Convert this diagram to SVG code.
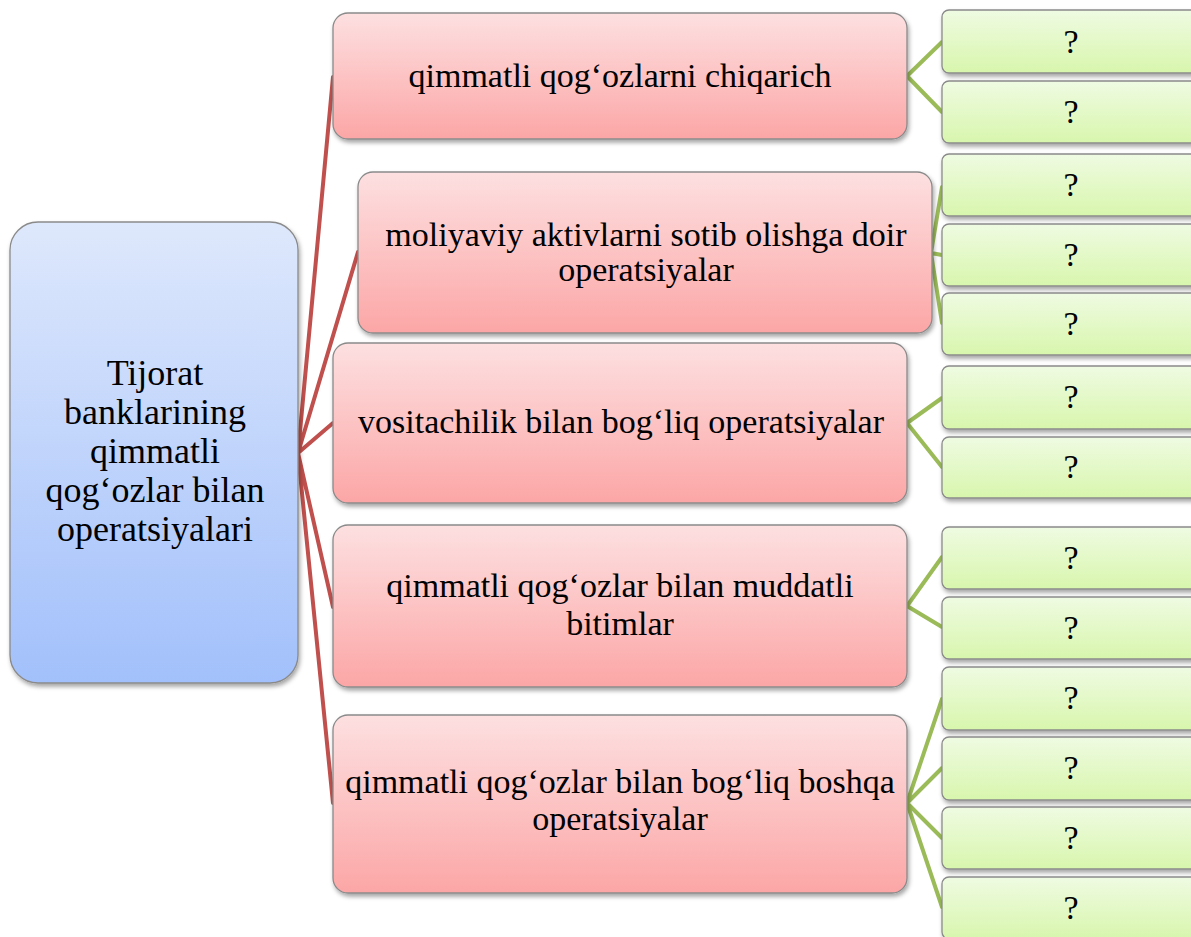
<svg xmlns="http://www.w3.org/2000/svg" width="1191" height="937" viewBox="0 0 1191 937">
<defs>
<linearGradient id="gBlue" x1="0" y1="0" x2="0" y2="1"><stop offset="0" stop-color="#dee8fc"/><stop offset="1" stop-color="#a2c0fb"/></linearGradient>
<linearGradient id="gRed" x1="0" y1="0" x2="0" y2="1"><stop offset="0" stop-color="#fde0e1"/><stop offset="1" stop-color="#fca6a6"/></linearGradient>
<linearGradient id="gGreen" x1="0" y1="0" x2="0" y2="1"><stop offset="0" stop-color="#effbe2"/><stop offset="1" stop-color="#d8f6ad"/></linearGradient>
<filter id="sh" x="-10%" y="-10%" width="120%" height="130%"><feDropShadow dx="1.5" dy="3" stdDeviation="2" flood-color="#000" flood-opacity="0.35"/></filter>
</defs>
<style>
.blue{fill:url(#gBlue);stroke:#8a8a8a;stroke-width:1.3;filter:url(#sh)}
.red{fill:url(#gRed);stroke:#8a8a8a;stroke-width:1.3;filter:url(#sh)}
.green{fill:url(#gGreen);stroke:#8a8a8a;stroke-width:1.3;filter:url(#sh)}
text{font-family:"Liberation Serif","Times New Roman",serif;fill:#000;text-anchor:middle}
.t36{font-size:36px}
.t34{font-size:34px}
.rc{stroke:#c0504d;stroke-width:4;fill:none;stroke-linecap:round}
.gc{stroke:#9bbb59;stroke-width:4;fill:none;stroke-linecap:round}
</style>
<rect width="1191" height="937" fill="#fff"/>
<g id="connectors">
<path class="rc" d="M298 453 L333 77 M298 453 L358 252 M298 453 L333 423 M298 453 L333 607 M298 453 L333 803"/>
<path class="gc" d="M907 76 L942 42 M907 76 L942 112"/>
<path class="gc" d="M931 253 L942 187 M931 253 L942 255 M931 253 L942 323"/>
<path class="gc" d="M907 423 L942 398 M907 423 L942 467"/>
<path class="gc" d="M907 606 L942 557 M907 606 L942 627"/>
<path class="gc" d="M907 803 L942 699 M907 803 L942 768 M907 803 L942 838 M907 803 L942 907"/>
</g>
<g id="root">
<rect class="blue" x="10" y="222" width="288" height="461" rx="28"/>
<text class="t36" x="155" y="385">Tijorat</text>
<text class="t36" x="155" y="424">banklarining</text>
<text class="t36" x="155" y="463">qimmatli</text>
<text class="t36" x="155" y="502">qog‘ozlar bilan</text>
<text class="t36" x="155" y="541">operatsiyalari</text>
</g>
<g id="n1">
<rect class="red" x="333" y="13" width="574" height="126" rx="15"/>
<text class="t34" x="620" y="87">qimmatli qog‘ozlarni chiqarich</text>
</g>
<g id="n2">
<rect class="red" x="358" y="172" width="574" height="161" rx="15"/>
<text class="t34" x="646" y="246">moliyaviy aktivlarni sotib olishga doir</text>
<text class="t34" x="646" y="281">operatsiyalar</text>
</g>
<g id="n3">
<rect class="red" x="333" y="343" width="574" height="160" rx="15"/>
<text class="t34" x="621" y="433">vositachilik bilan bog‘liq operatsiyalar</text>
</g>
<g id="n4">
<rect class="red" x="333" y="525" width="574" height="162" rx="15"/>
<text class="t34" x="620" y="597">qimmatli qog‘ozlar bilan muddatli</text>
<text class="t34" x="620" y="635">bitimlar</text>
</g>
<g id="n5">
<rect class="red" x="333" y="715" width="574" height="178" rx="15"/>
<text class="t34" x="620" y="793">qimmatli qog‘ozlar bilan bog‘liq boshqa</text>
<text class="t34" x="620" y="830">operatsiyalar</text>
</g>
<g id="g1"><rect class="green" x="942" y="10" width="258" height="63" rx="7"/><text class="t34" x="1071" y="53">?</text></g>
<g id="g2"><rect class="green" x="942" y="81" width="258" height="62" rx="7"/><text class="t34" x="1071" y="123">?</text></g>
<g id="g3"><rect class="green" x="942" y="154" width="258" height="62" rx="7"/><text class="t34" x="1071" y="196">?</text></g>
<g id="g4"><rect class="green" x="942" y="224" width="258" height="62" rx="7"/><text class="t34" x="1071" y="266">?</text></g>
<g id="g5"><rect class="green" x="942" y="293" width="258" height="62" rx="7"/><text class="t34" x="1071" y="335">?</text></g>
<g id="g6"><rect class="green" x="942" y="366" width="258" height="63" rx="7"/><text class="t34" x="1071" y="408">?</text></g>
<g id="g7"><rect class="green" x="942" y="437" width="258" height="61" rx="7"/><text class="t34" x="1071" y="478">?</text></g>
<g id="g8"><rect class="green" x="942" y="527" width="258" height="62" rx="7"/><text class="t34" x="1071" y="569">?</text></g>
<g id="g9"><rect class="green" x="942" y="597" width="258" height="62" rx="7"/><text class="t34" x="1071" y="639">?</text></g>
<g id="g10"><rect class="green" x="942" y="667" width="258" height="63" rx="7"/><text class="t34" x="1071" y="709">?</text></g>
<g id="g11"><rect class="green" x="942" y="737" width="258" height="63" rx="7"/><text class="t34" x="1071" y="779">?</text></g>
<g id="g12"><rect class="green" x="942" y="807" width="258" height="62" rx="7"/><text class="t34" x="1071" y="849">?</text></g>
<g id="g13"><rect class="green" x="942" y="877" width="258" height="62" rx="7"/><text class="t34" x="1071" y="919">?</text></g>
</svg>
